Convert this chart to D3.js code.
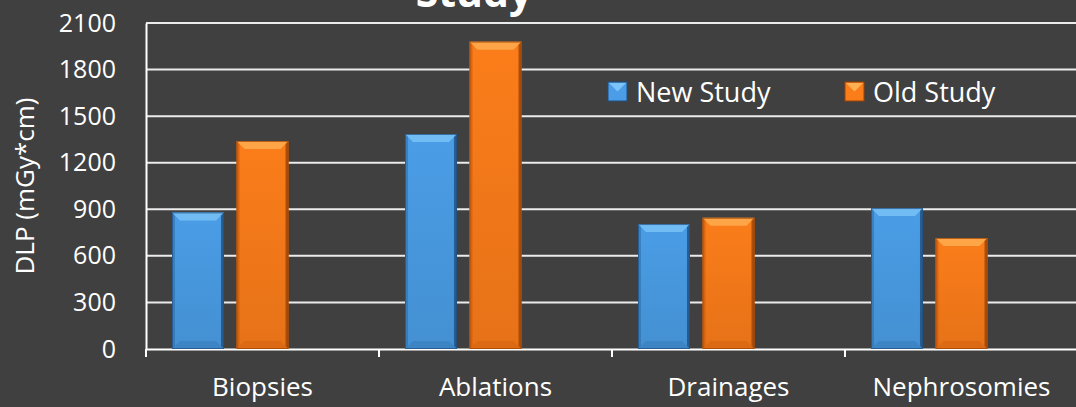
<!DOCTYPE html>
<html>
<head>
<meta charset="utf-8">
<script src="https://cdn.jsdelivr.net/npm/d3@7/dist/d3.min.js"></script>
<style>
  html, body { margin: 0; padding: 0; background: #404040; }
  svg { display: block; }
  text { font-family: "Open Sans", "Noto Sans", sans-serif; fill: #ffffff; }
</style>
</head>
<body>
<svg id="chart" width="1076" height="407"></svg>
<script>
// Procedure categories and DLP values per study
const categories = ["Biopsies", "Ablations", "Drainages", "Nephrosomies"];
const seriesNames = ["New Study", "Old Study"];
const newStudy = [880, 1385, 805, 908];
const oldStudy = [1340, 1980, 845, 715];
const yTicks = [0, 300, 600, 900, 1200, 1500, 1800, 2100];

const W = 1076, H = 407;
const margin = { left: 146, right: -2, top: 23, bottom: 58 };
const svg = d3.select("#chart");
const defs = svg.append("defs");

const x = d3.scaleBand().domain(categories)
  .range([margin.left, W - margin.right]).padding(0);
// three slots per category; the third one stays empty
const slots = ["New Study", "Old Study", "_"];
const x1 = d3.scaleBand().domain(slots)
  .range([26, x.bandwidth() - 26]).paddingInner(0.194).paddingOuter(0);
const y = d3.scaleLinear().domain([0, 2100]).range([H - margin.bottom, margin.top]);

const colors = {
  "New Study": { base: "#4a9de6", light: "#7cc4f7", dark: "#2f6faa", edge: "#1f4f80" },
  "Old Study": { base: "#fb7d1a", light: "#ffb052", dark: "#c85a0c", edge: "#9a4306" }
};

// vertical shading for each series
seriesNames.forEach((s, i) => {
  const g = defs.append("linearGradient").attr("id", "g" + i)
    .attr("x1", "0").attr("x2", "0").attr("y1", "0").attr("y2", "1");
  g.append("stop").attr("offset", "0").attr("stop-color", colors[s].base);
  g.append("stop").attr("offset", "1").attr("stop-color", d3.color(colors[s].base).darker(0.25));
});

// gridlines
svg.append("g").selectAll("line").data(yTicks.slice(1)).join("line")
  .attr("x1", margin.left).attr("x2", W)
  .attr("y1", d => y(d)).attr("y2", d => y(d))
  .attr("stroke", "#ececec").attr("stroke-width", 2);

// y axis
const yAxis = svg.append("g").attr("transform", `translate(${margin.left},0)`)
  .call(d3.axisLeft(y).tickValues(yTicks).tickFormat(d3.format("d")).tickSize(0).tickPadding(30));
yAxis.select(".domain").attr("stroke", "#ffffff").attr("stroke-width", 2);
yAxis.selectAll("text").style("font-size", "25px").attr("fill", "#ffffff");

// x axis
const xAxis = svg.append("g").attr("transform", `translate(0,${y(0)})`)
  .call(d3.axisBottom(x).tickSize(0).tickPadding(29));
xAxis.select(".domain").attr("stroke", "#ffffff").attr("stroke-width", 2);
xAxis.selectAll("text").style("font-size", "26px").attr("fill", "#ffffff");
// category separator ticks
svg.append("g").selectAll("line").data(categories).join("line")
  .attr("x1", d => x(d)).attr("x2", d => x(d))
  .attr("y1", y(0)).attr("y2", y(0) + 8)
  .attr("stroke", "#ffffff").attr("stroke-width", 2);

// bars with bevel
const rows = categories.map((c, i) => ({ cat: c, vals: [newStudy[i], oldStudy[i]] }));
const bars = svg.append("g");
rows.forEach(r => {
  r.vals.forEach((v, si) => {
    const s = seriesNames[si];
    const bx = x(r.cat) + x1(s), bw = x1.bandwidth();
    const top = y(v), bot = y(0), bh = bot - top;
    const b = 8;
    const g = bars.append("g");
    g.append("rect").attr("x", bx).attr("y", top).attr("width", bw).attr("height", bh)
      .attr("fill", `url(#g${si})`);
    // top bevel
    g.append("path").attr("d", `M${bx},${top}L${bx + bw},${top}L${bx + bw - b},${top + b}L${bx + b},${top + b}Z`)
      .attr("fill", colors[s].light).attr("opacity", 0.8);
    // left bevel
    g.append("path").attr("d", `M${bx},${top}L${bx + 3},${top + 3}L${bx + 3},${bot - 3}L${bx},${bot}Z`)
      .attr("fill", colors[s].dark).attr("opacity", 0.6);
    // right bevel
    g.append("path").attr("d", `M${bx + bw},${top}L${bx + bw - 3},${top + 3}L${bx + bw - 3},${bot - 3}L${bx + bw},${bot}Z`)
      .attr("fill", colors[s].edge).attr("opacity", 0.8);
    // bottom bevel
    g.append("path").attr("d", `M${bx},${bot}L${bx + b},${bot - b}L${bx + bw - b},${bot - b}L${bx + bw},${bot}Z`)
      .attr("fill", colors[s].dark).attr("opacity", 0.35);
    g.append("rect").attr("x", bx + 0.5).attr("y", top + 0.5).attr("width", bw - 1).attr("height", bh - 1)
      .attr("fill", "none").attr("stroke", colors[s].edge).attr("stroke-width", 1).attr("opacity", 0.7);
  });
});

// title, partly above the top edge
svg.append("text").attr("x", 474).attr("y", 7).attr("text-anchor", "middle")
  .style("font-size", "41px").style("font-weight", "bold").text("Study");

// y axis title
svg.append("text").attr("transform", "translate(34,186) rotate(-90)")
  .attr("text-anchor", "middle").style("font-size", "26px").text("DLP (mGy*cm)");

// legend
const legendPos = [{ x: 608 }, { x: 845 }];
const legend = svg.append("g");
seriesNames.forEach((s, i) => {
  const lx = legendPos[i].x, ly = 82;
  const lg = legend.append("g");
  lg.append("rect").attr("x", lx).attr("y", ly).attr("width", 19).attr("height", 19)
    .attr("fill", colors[s].base).attr("stroke", colors[s].edge).attr("stroke-width", 1);
  lg.append("path").attr("d", `M${lx + 1},${ly + 1}L${lx + 18},${ly + 1}L${lx + 9.5},${ly + 9.5}Z`)
    .attr("fill", colors[s].light);
  lg.append("text").attr("x", lx + 28).attr("y", ly + 20).style("font-size", "27px").text(s);
});
</script>
</body>
</html>
